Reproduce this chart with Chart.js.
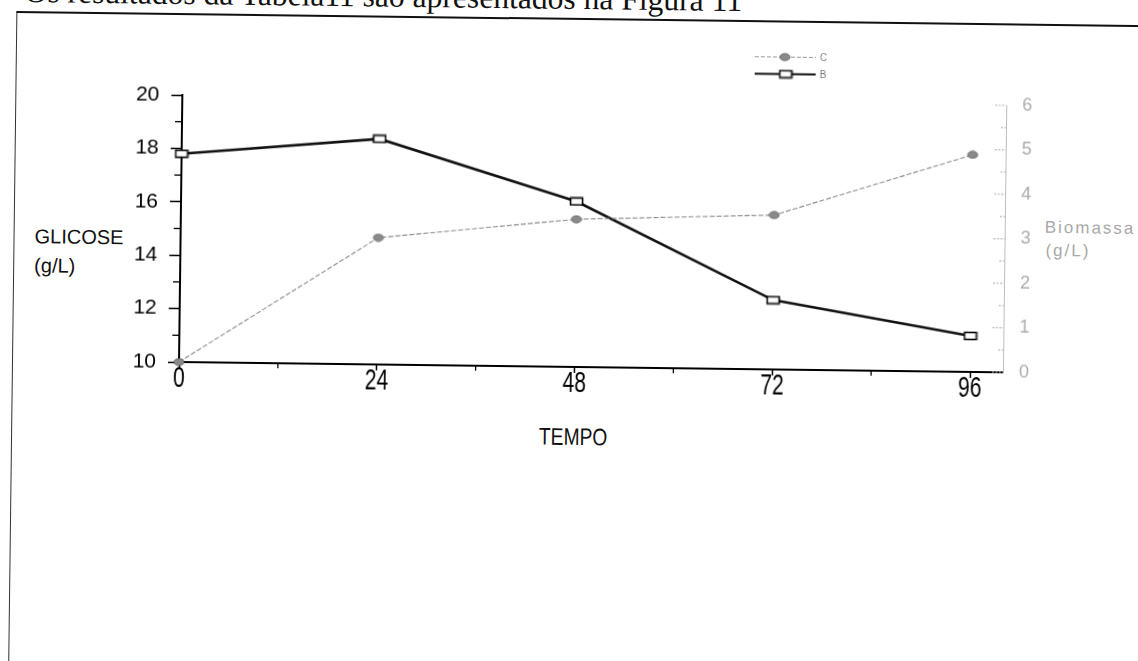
<!DOCTYPE html>
<html>
<head>
<meta charset="utf-8">
<script src="https://cdn.jsdelivr.net/npm/chart.js@4.4.1/dist/chart.umd.min.js"></script>
<style>
  html, body { margin: 0; padding: 0; background: #fff; width: 1138px; height: 661px; overflow: hidden; }
  /* the scan is tilted a little clockwise, so the whole sheet is rotated round the plot origin */
  #page { position: absolute; left: 0; top: 0; width: 1138px; height: 661px; transform: rotate(0.72deg); transform-origin: 179px 362px; }
  #frame { position: absolute; left: 12px; top: 13px; width: 1300px; height: 800px; border-top: 2px solid #111; border-left: 1px solid #333; }
  #chartBox { position: absolute; left: 0; top: 0; width: 1138px; height: 661px; }
  .lbl { position: absolute; line-height: 1; white-space: nowrap; font-family: 'Liberation Sans', Arial, sans-serif; color: #111; }
  #intro { position: absolute; left: 20px; top: 0; line-height: 1; white-space: nowrap; color: #111; font-family: 'Liberation Serif', 'Times New Roman', serif; }
</style>
</head>
<body>
<div id="page">
  <div id="intro">Os resultados da Tabela11 são apresentados na Figura 11</div>
  <div id="frame"></div>
  <div class="lbl" style="left:33px;top:228px;font-size:20px">GLICOSE</div>
  <div class="lbl" style="left:33px;top:257px;font-size:20px">(g/L)</div>
  <div class="lbl" style="left:574px;top:420px;font-size:24px;transform:translateX(-50%) scaleX(0.8)">TEMPO</div>
  <div class="lbl" style="left:1043px;top:208px;font-size:17px;letter-spacing:2px;color:#a8a8a8">Biomassa</div>
  <div class="lbl" style="left:1044px;top:231px;font-size:17px;letter-spacing:2px;color:#a8a8a8">(g/L)</div>
  <div id="chartBox"><canvas id="chart"></canvas></div>
</div>
<script>
const hours = [0, 24, 48, 72, 96];
const glicose = [17.8, 18.45, 16.2, 12.6, 11.35];   // B, left axis
const biomassa = [0, 2.85, 3.32, 3.47, 4.88];       // C, right axis
const xTickValues = [0, 24, 48, 72, 96];
const xMinorTicks = [12, 36, 60, 84];
const seriesNames = ['C', 'B'];

// fit the cut-off sentence at the top to its width on the scan
(function () {
  const el = document.getElementById('intro');
  const m = document.createElement('canvas').getContext('2d');
  m.font = "100px 'Liberation Serif', 'Times New Roman', serif";
  const size = 100 * 718 / m.measureText(el.textContent).width;
  el.style.fontSize = size.toFixed(2) + 'px';
  el.style.top = (4 - 0.8375 * size).toFixed(1) + 'px';
})();

function rectMarker() {
  const c = document.createElement('canvas'); c.width = 15; c.height = 10;
  const g = c.getContext('2d');
  g.fillStyle = '#fff'; g.fillRect(1, 1, 13, 8);
  g.strokeStyle = '#000'; g.lineWidth = 1.6; g.strokeRect(1.5, 1.5, 12, 7);
  return c;
}
function dotMarker() {
  const c = document.createElement('canvas'); c.width = 12; c.height = 9;
  const g = c.getContext('2d');
  g.fillStyle = '#8a8a8a'; g.beginPath(); g.ellipse(6, 4.5, 5, 3.6, 0, 0, Math.PI * 2); g.fill();
  g.strokeStyle = '#5a5a5a'; g.lineWidth = 0.8; g.stroke();
  return c;
}
const sq = rectMarker(), dot = dotMarker();

const paperExtras = {
  id: 'paperExtras',
  afterDraw(chart) {
    const { ctx, chartArea: a, scales: { x, y, y1 } } = chart;
    const seg = (x1, y1_, x2, y2) => { ctx.beginPath(); ctx.moveTo(x1, y1_); ctx.lineTo(x2, y2); ctx.stroke(); };
    ctx.save();
    // minor ticks, left axis
    ctx.strokeStyle = '#000'; ctx.lineWidth = 1.3;
    for (let v = y.min + 1; v < y.max; v += 2) { const py = y.getPixelForValue(v); seg(a.left - 7, py, a.left, py); }
    // minor ticks, time axis
    xMinorTicks.forEach(v => { const px = x.getPixelForValue(v); seg(px, a.bottom, px, a.bottom + 5); });
    // faint inward ticks on the biomass axis
    ctx.strokeStyle = '#aaa'; ctx.lineWidth = 1; ctx.setLineDash([2, 1.5]);
    for (let v = y1.min; v <= y1.max; v += 0.5) {
      const py = y1.getPixelForValue(v);
      seg(a.right - (v % 1 === 0 ? 11 : 5), py, a.right, py);
    }
    ctx.setLineDash([]);
    // condensed time labels
    ctx.fillStyle = '#000'; ctx.font = "30px 'Liberation Sans', Arial, sans-serif";
    ctx.textAlign = 'center'; ctx.textBaseline = 'alphabetic';
    xTickValues.forEach(v => {
      ctx.save(); ctx.translate(x.getPixelForValue(v), a.bottom + 25); ctx.scale(0.7, 1);
      ctx.fillText(String(v), 0, 0); ctx.restore();
    });
    // legend
    ctx.font = "10px 'Liberation Sans', Arial, sans-serif"; ctx.textAlign = 'left'; ctx.textBaseline = 'middle';
    ctx.strokeStyle = '#999'; ctx.lineWidth = 1; ctx.setLineDash([4, 2]);
    seg(751, 49.5, 812, 49.5);
    ctx.setLineDash([]);
    ctx.drawImage(dot, 781 - 6, 49.5 - 4.5);
    ctx.fillStyle = '#888'; ctx.fillText(seriesNames[0], 816, 50);
    ctx.strokeStyle = '#111'; ctx.lineWidth = 2;
    seg(751, 66.5, 812, 66.5);
    ctx.drawImage(sq, 782 - 7.5, 66.5 - 5);
    ctx.fillStyle = '#777'; ctx.fillText(seriesNames[1], 816, 67);
    ctx.restore();
  }
};

new Chart(document.getElementById('chart'), {
  type: 'line',
  data: {
    datasets: [
      {
        label: seriesNames[0], yAxisID: 'y1',
        data: hours.map((h, i) => ({ x: h, y: biomassa[i] })),
        borderColor: '#8c8c8c', borderWidth: 1.1, borderDash: [5, 2],
        pointStyle: dot, pointRadius: 5, clip: false
      },
      {
        label: seriesNames[1], yAxisID: 'y',
        data: hours.map((h, i) => ({ x: h, y: glicose[i] })),
        borderColor: '#111', borderWidth: 2.6,
        pointStyle: sq, pointRadius: 5, clip: false
      }
    ]
  },
  options: {
    responsive: true, maintainAspectRatio: false, animation: false,
    layout: { padding: { top: 95, left: 0, right: 0, bottom: 0 } },
    plugins: { legend: { display: false }, tooltip: { enabled: false } },
    elements: { line: { tension: 0 } },
    scales: {
      x: {
        type: 'linear', min: 0, max: 100, position: 'bottom',
        afterBuildTicks: s => { s.ticks = xTickValues.map(v => ({ value: v })); },
        afterFit: s => { s.height = 299; },
        ticks: { callback: () => '' },
        grid: { drawOnChartArea: false, drawTicks: true, tickLength: 6, tickColor: '#000', tickWidth: 1.5 },
        border: { color: '#000', width: 2 }
      },
      y: {
        min: 10, max: 20, position: 'left',
        afterFit: s => { s.width = 179; },
        ticks: { stepSize: 2, color: '#000', padding: 12, font: { family: "'Liberation Sans', Arial, sans-serif", size: 21 } },
        grid: { drawOnChartArea: false, tickLength: 11, tickColor: '#000', tickWidth: 1.5 },
        border: { color: '#000', width: 2 }
      },
      y1: {
        min: 0, max: 6, position: 'right',
        afterFit: s => { s.width = 135; },
        ticks: { stepSize: 1, color: '#ababab', padding: 16, font: { family: "'Liberation Sans', Arial, sans-serif", size: 18 } },
        grid: { display: false, drawTicks: false },
        border: { color: '#bdbdbd', width: 1, dash: [3, 2] }
      }
    }
  },
  plugins: [paperExtras]
});
</script>
</body>
</html>
